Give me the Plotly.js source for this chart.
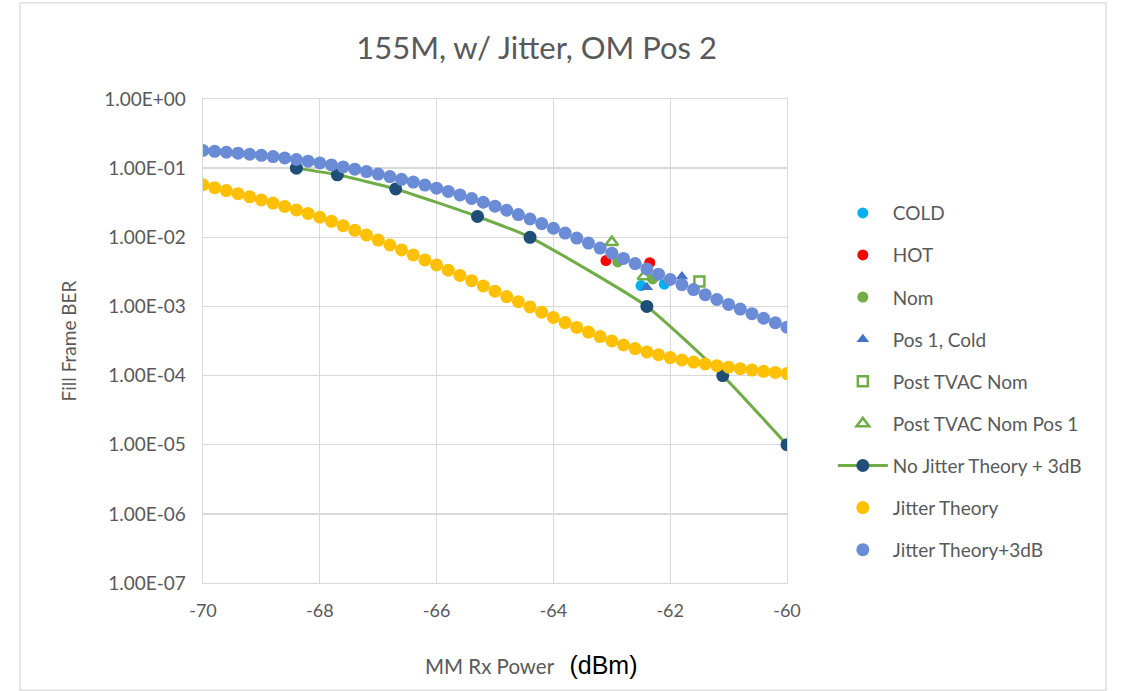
<!DOCTYPE html>
<html>
<head>
<meta charset="utf-8">
<script src="https://cdn.plot.ly/plotly-3.0.1.min.js"></script>
<style>html,body{margin:0;padding:0;background:#fff;}#chart{width:1125px;height:691px;}</style>
</head>
<body>
<div id="chart"></div>
<script>
// ---- data ----
var theoryPower = [-70,-69.8,-69.6,-69.4,-69.2,-69,-68.8,-68.6,-68.4,-68.2,-68,-67.8,-67.6,-67.4,-67.2,-67,-66.8,-66.6,-66.4,-66.2,-66,-65.8,-65.6,-65.4,-65.2,-65,-64.8,-64.6,-64.4,-64.2,-64,-63.8,-63.6,-63.4,-63.2,-63,-62.8,-62.6,-62.4,-62.2,-62,-61.8,-61.6,-61.4,-61.2,-61,-60.8,-60.6,-60.4,-60.2,-60];
var jitterTheory = [0.0575,0.0522,0.0473,0.0428,0.0385,0.0347,0.0312,0.0279,0.0249,0.0221,0.0195,0.0170,0.0147,0.0126,0.0108,0.00912,0.00774,0.00656,0.00556,0.00471,0.00398,0.00334,0.00281,0.00236,0.00198,0.00166,0.00139,0.00117,0.000982,0.000824,0.000692,0.000585,0.000497,0.000425,0.000366,0.000316,0.000277,0.000246,0.000220,0.000200,0.000182,0.000168,0.000157,0.000147,0.000139,0.000132,0.000126,0.000120,0.000115,0.000111,0.000107];
var jitterTheory3dB = [0.1799,0.1750,0.1698,0.1644,0.1589,0.1531,0.1469,0.1403,0.1334,0.1262,0.1189,0.1114,0.1040,0.0966,0.0893,0.0822,0.0755,0.0690,0.0628,0.0569,0.0513,0.0460,0.0410,0.0364,0.0321,0.0282,0.0246,0.0213,0.0184,0.0158,0.0135,0.0115,0.00975,0.00826,0.00698,0.00589,0.00495,0.00416,0.00349,0.00293,0.00245,0.00207,0.00175,0.00148,0.00126,0.00107,0.000916,0.000785,0.000675,0.000581,0.000501];

var noJitterPower = [-68.4,-67.7,-66.7,-65.3,-64.4,-62.4,-61.1,-60];
var noJitterBER   = [1e-1,8e-2,5e-2,2e-2,1e-2,1e-3,1e-4,1e-5];

var coldPower = [-62.5,-62.1];          var coldBER = [2.0e-3,2.1e-3];
var hotPower  = [-63.1,-62.35];         var hotBER  = [4.6e-3,4.3e-3];
var nomPower  = [-62.9,-62.3];          var nomBER  = [4.4e-3,2.5e-3];
var pos1ColdPower = [-62.4,-61.8];      var pos1ColdBER = [1.9e-3,2.7e-3];
var postTvacPower = [-61.5];            var postTvacBER = [2.3e-3];
var postTvacPos1Power = [-63.0,-62.45]; var postTvacPos1BER = [8.5e-3,2.7e-3];

var xTicks = [-70,-68,-66,-64,-62,-60];
var yTickVals = [1,1e-1,1e-2,1e-3,1e-4,1e-5,1e-6,1e-7];
var yTickText = ["1.00E+00","1.00E-01","1.00E-02","1.00E-03","1.00E-04","1.00E-05","1.00E-06","1.00E-07"];

var titleText = "155M, w/ Jitter, OM Pos 2";
var yTitle = "Fill Frame BER";
var xTitleMain = "MM Rx Power";
var xTitleUnit = "(dBm)";

// ---- styling ----
var FONT = "Lato, 'Open Sans', sans-serif";
var GREY = "#595959";
var GRID = "#d9d9d9";

function pts(name, x, y, marker, grp) {
  return {type:'scatter', mode:'markers', name:name, x:x, y:y, marker:marker, legendgroup:grp};
}

var traces = [
  pts('COLD', coldPower, coldBER, {color:'#00b0f0', size:11, symbol:'circle'}, 'g1'),
  pts('HOT', hotPower, hotBER, {color:'#ff0000', size:11, symbol:'circle'}, 'g2'),
  pts('Nom', nomPower, nomBER, {color:'#70ad47', size:11, symbol:'circle'}, 'g3'),
  pts('Pos 1, Cold', pos1ColdPower, pos1ColdBER, {color:'#4472c4', size:11, symbol:'triangle-up'}, 'g4'),
  pts('Post TVAC Nom', postTvacPower, postTvacBER, {color:'rgba(0,0,0,0)', size:10, symbol:'square', line:{color:'#70ad47', width:2.5}}, 'g5'),
  pts('Post TVAC Nom Pos 1', postTvacPos1Power, postTvacPos1BER, {color:'rgba(0,0,0,0)', size:11, symbol:'triangle-up', line:{color:'#70ad47', width:2.5}}, 'g6'),
  {type:'scatter', mode:'lines+markers', name:'No Jitter Theory + 3dB', x:noJitterPower, y:noJitterBER,
   line:{color:'#70ad47', width:3, shape:'spline', smoothing:0.5}, marker:{color:'#1f4e79', size:13}, legendgroup:'g7'},
  pts('Jitter Theory', theoryPower, jitterTheory, {color:'#ffc000', size:13, symbol:'circle'}, 'g8'),
  pts('Jitter Theory+3dB', theoryPower, jitterTheory3dB, {color:'#6a8bd6', size:13, symbol:'circle'}, 'g9')
];

var layout = {
  width:1125, height:691,
  paper_bgcolor:'#ffffff', plot_bgcolor:'#ffffff',
  font:{family:FONT, color:GREY, size:18},
  margin:{l:203, r:338, t:99, b:108, pad:0},
  title:{text:titleText, font:{family:FONT, size:31, color:GREY}, x:0.477, xanchor:'center', xref:'container', y:0.93, yanchor:'middle', yref:'container'},
  xaxis:{range:[-70,-60], tickvals:xTicks, ticktext:xTicks.map(String), showgrid:true, gridcolor:GRID, gridwidth:1.3,
         showline:true, linecolor:GRID, linewidth:1.3, mirror:true, zeroline:false, ticks:'', ticklabelstandoff:11,
         tickfont:{family:FONT, size:18, color:GREY}},
  yaxis:{type:'log', range:[-7,0], tickvals:yTickVals, ticktext:yTickText, showgrid:true, gridcolor:GRID, gridwidth:1.3,
         showline:true, linecolor:GRID, linewidth:1.3, mirror:true, zeroline:false, ticks:'', ticklabelstandoff:12,
         tickfont:{family:FONT, size:19, color:GREY},
         title:{text:yTitle, font:{family:FONT, size:19, color:GREY}, standoff:22}},
  showlegend:true,
  legend:{xref:'container', yref:'container', x:0.7403, y:0.7192, xanchor:'left', yanchor:'top', maxheight:620,
          font:{family:FONT, size:19, color:GREY}, tracegroupgap:14.4, itemwidth:50, bgcolor:'rgba(0,0,0,0)'},
  annotations:[
    {xref:'paper', yref:'paper', x:(531-203)/584, y:(582-664)/483, xanchor:'center', yanchor:'middle', showarrow:false,
     text:xTitleMain + '&nbsp;&nbsp;&nbsp;<span style="font-family:Arial, \'Liberation Sans\', sans-serif; fill:#000000; font-size:25px">' + xTitleUnit + '</span>',
     font:{family:FONT, size:20.5, color:GREY}}
  ],
  shapes:[
    {type:'rect', xref:'paper', yref:'paper', x0:-183/584, x1:(1106-203)/584, y0:-(689-582)/483, y1:(99-3)/483+1,
     line:{color:'#d9d9d9', width:1.3}, fillcolor:'rgba(0,0,0,0)', layer:'below'}
  ]
};

Plotly.newPlot('chart', traces, layout, {displayModeBar:false, staticPlot:true});
</script>
</body>
</html>
